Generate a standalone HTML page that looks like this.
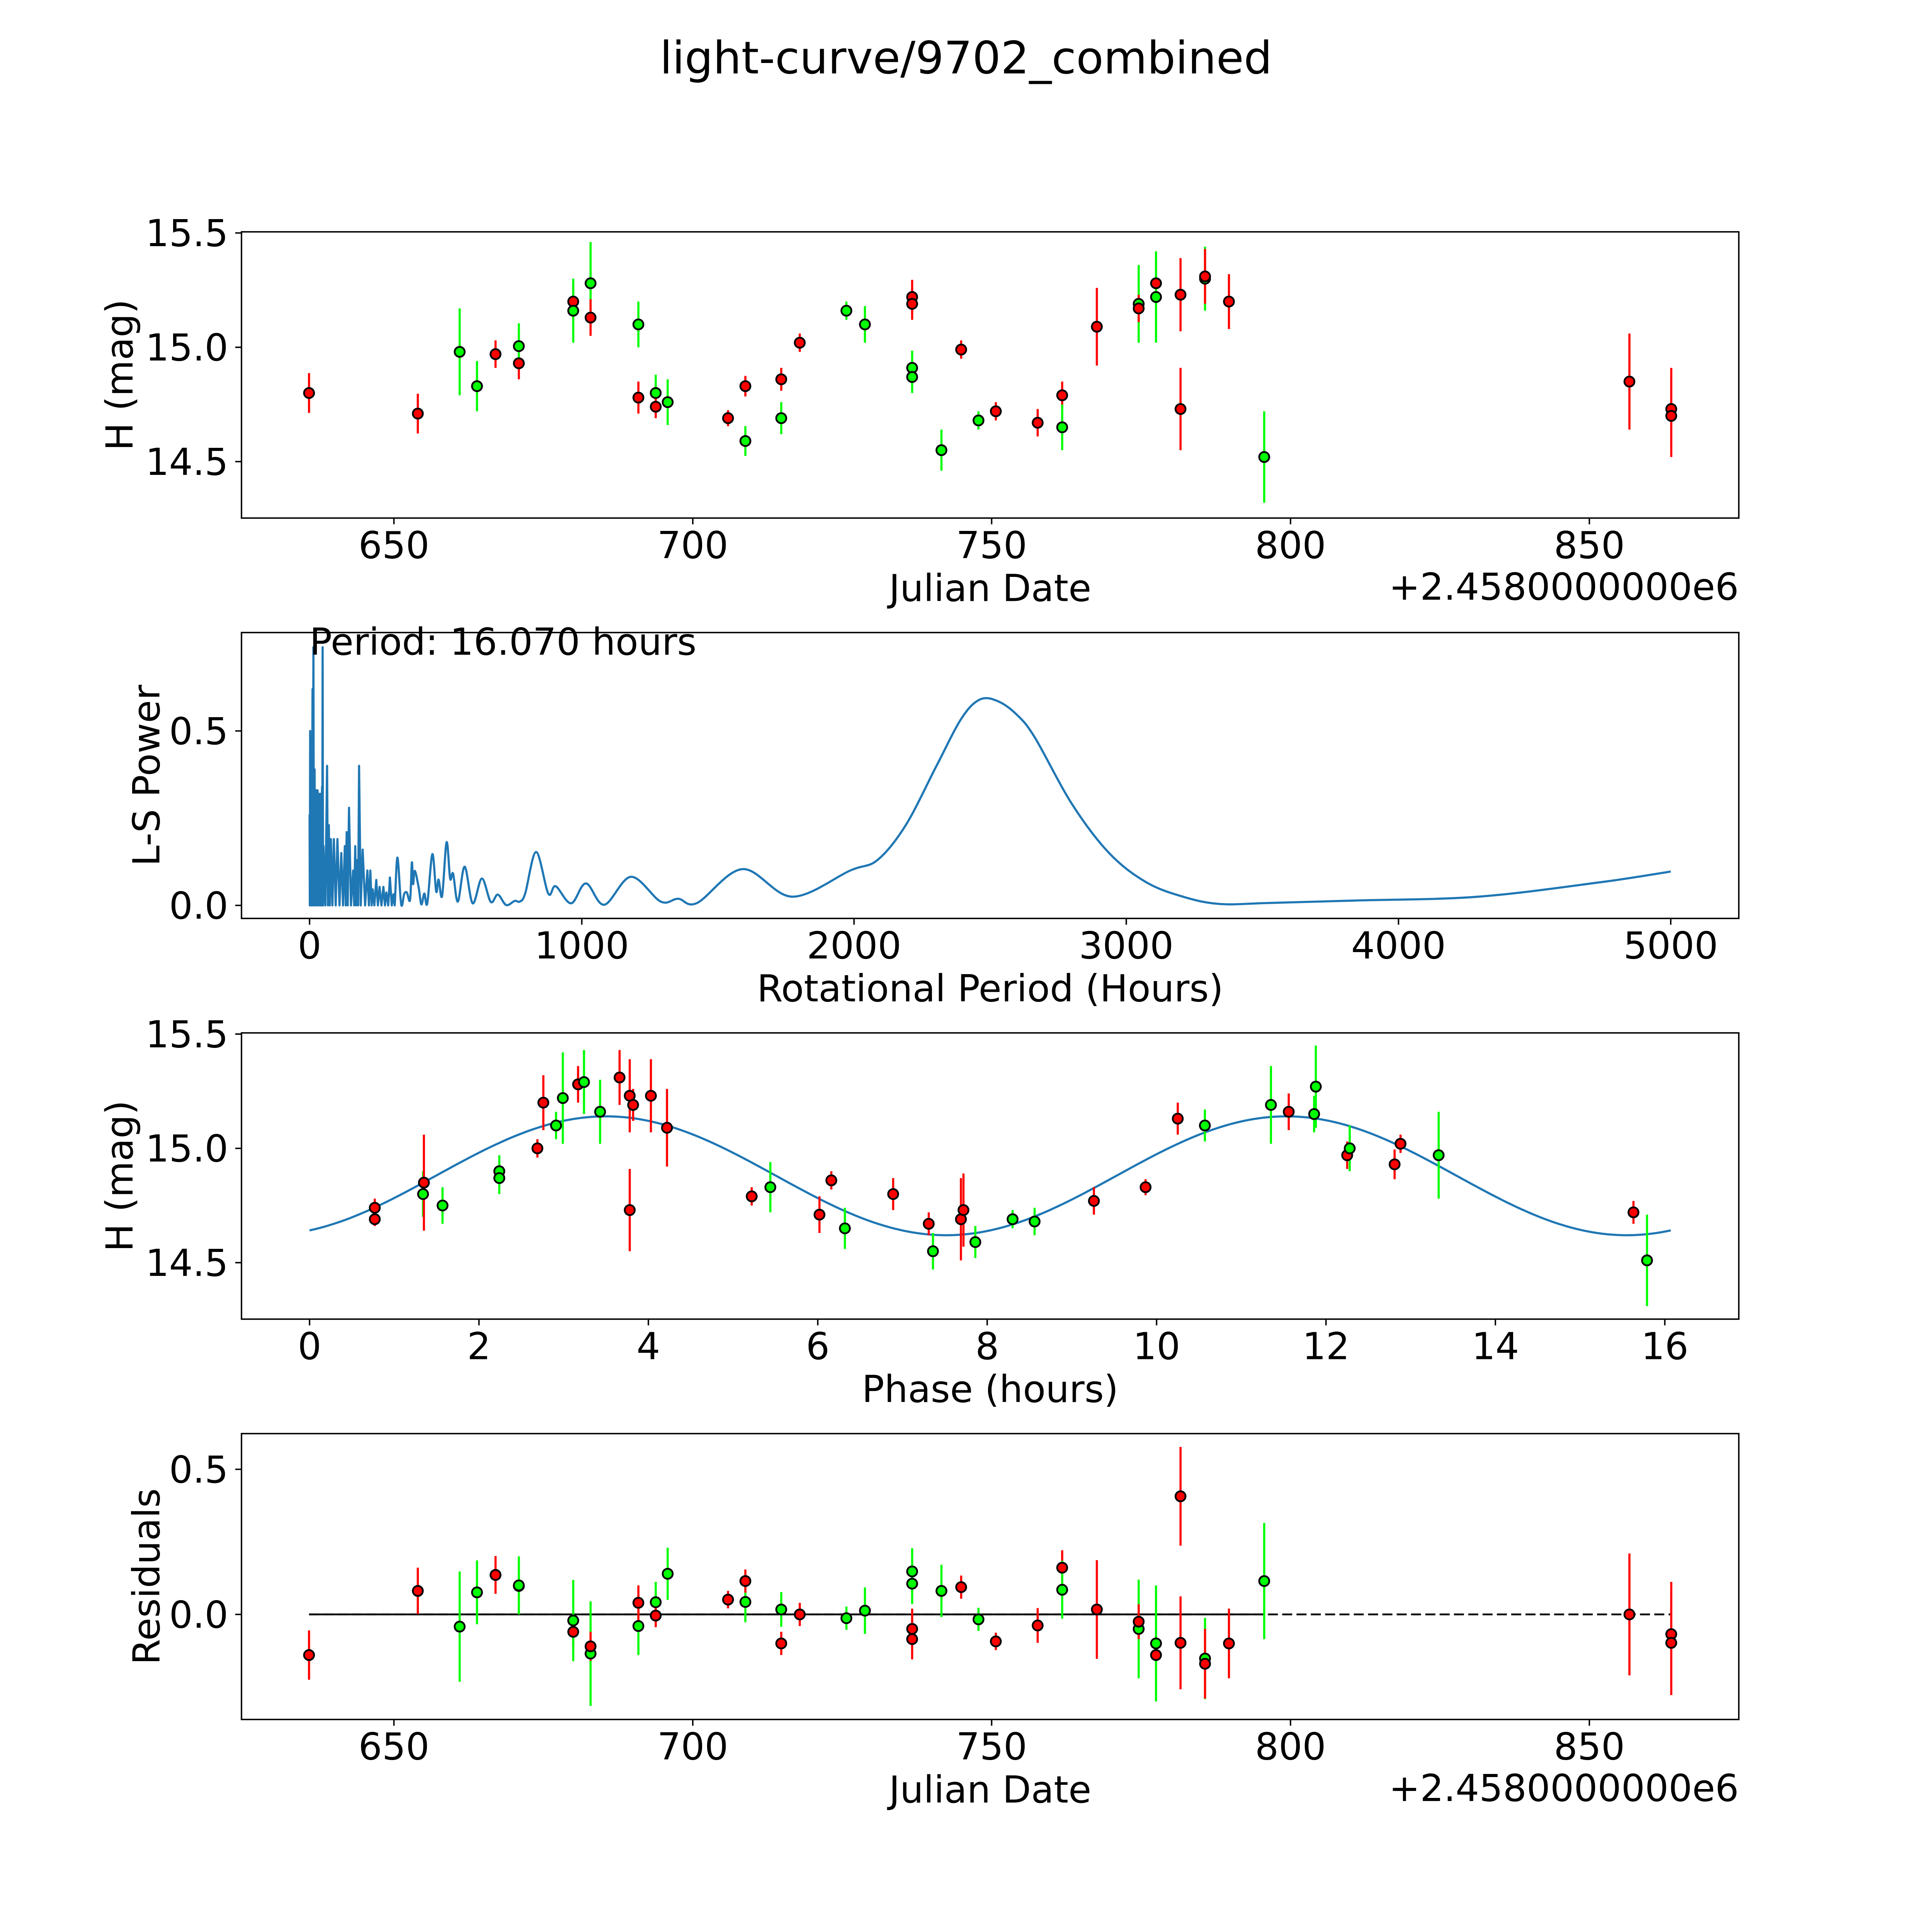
<!DOCTYPE html>
<html><head><meta charset="utf-8"><style>
html,body{margin:0;padding:0;background:#fff;overflow:hidden;width:100vw;height:100vh;}
svg{display:block;width:100vw;height:100vh;font-family:"DejaVu Sans","Liberation Sans",sans-serif;}
</style></head><body>
<svg id="fig" viewBox="0 0 5400 5400" preserveAspectRatio="xMidYMid meet" xmlns="http://www.w3.org/2000/svg">
<rect x="0" y="0" width="5400" height="5400" fill="#fff"/>
<text x="2700" y="205" font-size="125" text-anchor="middle">light-curve/9702_combined</text>
</svg>
<script>
// ---- Panel 1: light curve ----
const lcJD   = [635.8,654.0,661.0,663.9,667.0,670.9,670.9,680.0,680.0,682.9,682.9,690.9,690.9,693.8,693.8,695.8,705.9,708.8,708.8,714.8,714.8,717.9,725.7,728.8,736.7,736.7,736.7,736.7,741.6,744.9,747.8,750.7,757.7,761.8,761.8,767.6,774.6,774.6,777.5,777.5,781.6,781.6,785.7,785.7,789.7,795.6,856.7,863.7,863.7];
const lcMag  = [14.80,14.71,14.98,14.83,14.97,14.93,15.005,15.20,15.16,15.28,15.13,15.10,14.78,14.80,14.74,14.76,14.69,14.59,14.83,14.86,14.69,15.02,15.16,15.10,15.22,15.19,14.91,14.87,14.55,14.99,14.68,14.72,14.67,14.79,14.65,15.09,15.19,15.17,15.28,15.22,15.23,14.73,15.30,15.31,15.20,14.52,14.85,14.73,14.70];
const lcErr  = [0.087,0.087,0.19,0.11,0.06,0.07,0.10,0.08,0.14,0.18,0.08,0.10,0.07,0.08,0.05,0.10,0.035,0.065,0.045,0.05,0.07,0.04,0.04,0.08,0.075,0.07,0.075,0.07,0.09,0.04,0.04,0.04,0.06,0.06,0.10,0.17,0.17,0.06,0.08,0.20,0.16,0.18,0.14,0.12,0.12,0.20,0.21,0.18,0.18];
const lcBand = ['r','r','g','g','r','r','g','r','g','g','r','g','r','g','r','g','r','g','r','r','g','r','g','g','r','r','g','g','g','r','g','r','r','r','g','r','g','r','r','g','r','r','g','r','r','g','r','r','r'];

// ---- Panel 2: periodogram ----
const lsPeriod = [0,1,2.2,3.5,5.4,8,10.9,12.5,14.2,16,18.5,21,24,26.5,29.4,32,34.9,37.5,40.3,43,45.8,46.8,47.9,49.5,51.2,58,64.3,67.5,70.8,74.5,78.4,84,89.3,96,102.4,110,116.6,123,129.6,133,136.2,140,144.9,152,160.1,164,167.8,171.5,175.4,178.5,181.9,188,195,204,212.4,218,223.3,228,232,238,245.1,251,257.1,264,271.2,277,282.1,289,295.2,302,308.3,312.6,322.4,334.4,339.9,347.5,357.3,369.3,375.8,380.2,386.7,400.9,410.7,421.6,432.5,451,465.1,473.9,486.9,503.3,516.3,527.2,544.7,569.7,599.1,632.9,665.6,691.7,722.2,753.8,772.3,792,832.2,876.9,904.1,960.8,1015.3,1082.8,1180.8,1289.8,1354,1423.7,1590.4,1773,1986,2086,2190,2303,2394,2462,2529,2600,2665,2801,2937,3072,3208,3344,3525,3842,4294,4747,5000];
const lsPower  = [0.26,0,0.50,0,0.39,0,0.62,0,0.74,0,0.39,0,0.33,0,0.33,0,0.32,0,0.32,0,0.34,0,0.74,0,0.17,0,0.40,0,0.23,0,0.19,0,0.19,0,0.19,0,0.15,0,0.17,0,0.21,0,0.28,0,0.10,0,0.17,0,0.13,0,0.40,0,0.16,0,0.10,0,0.10,0,0.046,0,0.073,0,0.053,0,0.053,0,0.037,0,0.08,0,0.032,0.0,0.137,0.019,0.0,0.032,0.037,0.016,0.123,0.061,0.099,0.051,0.003,0.034,0.006,0.147,0.04,0.074,0.027,0.181,0.077,0.091,0.011,0.111,0.006,0.077,0.01,0.031,0.001,0.013,0.011,0.034,0.153,0.034,0.055,0.006,0.063,0.002,0.082,0.011,0.019,0.007,0.104,0.025,0.10,0.13,0.23,0.40,0.535,0.59,0.585,0.545,0.48,0.29,0.15,0.067,0.025,0.004,0.007,0.014,0.025,0.067,0.097];
const bestPeriodLabel = "Period: 16.070 hours";

// ---- Panel 3: folded phase ----
const phHours = [0.77,0.77,1.34,1.35,1.57,2.24,2.24,2.69,2.76,2.91,2.99,3.17,3.24,3.43,3.66,3.78,3.78,3.82,4.03,4.22,5.22,5.44,6.02,6.16,6.32,6.89,7.31,7.36,7.69,7.72,7.86,8.30,8.56,9.26,9.87,10.25,10.57,11.35,11.56,11.88,11.86,12.25,12.28,12.81,12.88,13.33,15.63,15.79];
const phMag   = [14.74,14.69,14.80,14.85,14.75,14.90,14.87,15.00,15.20,15.10,15.22,15.28,15.29,15.16,15.31,15.23,14.73,15.19,15.23,15.09,14.79,14.83,14.71,14.86,14.65,14.80,14.67,14.55,14.69,14.73,14.59,14.69,14.68,14.77,14.83,15.13,15.10,15.19,15.16,15.27,15.15,14.97,15.00,14.93,15.02,14.97,14.72,14.51];
const phErr   = [0.04,0.03,0.10,0.21,0.08,0.07,0.07,0.04,0.12,0.06,0.20,0.08,0.14,0.14,0.12,0.16,0.18,0.07,0.16,0.17,0.04,0.11,0.08,0.04,0.09,0.07,0.05,0.08,0.18,0.16,0.07,0.04,0.06,0.06,0.035,0.07,0.07,0.17,0.08,0.18,0.08,0.06,0.10,0.065,0.04,0.19,0.05,0.20];
const phBand  = ['r','r','g','r','g','g','g','r','r','g','g','r','g','g','r','r','r','r','r','r','r','g','r','r','g','r','r','g','r','r','g','g','g','r','r','r','g','g','r','g','g','r','g','r','r','g','r','g'];
const foldPeriod = 16.07;
const modelParams = [14.88, 0.26, 1.49]; // mean, amplitude, phase offset (hours)

// ---- Panel 4: residuals ----
const resJD   = [635.8,654.0,661.0,663.9,667.0,670.9,670.9,680.0,680.0,682.9,682.9,690.9,690.9,693.8,693.8,695.8,705.9,708.8,708.8,714.8,714.8,717.9,725.7,728.8,736.7,736.7,736.7,736.7,741.6,744.9,747.8,750.7,757.7,761.8,761.8,767.6,774.6,774.6,777.5,777.5,781.6,781.6,785.7,785.7,789.7,795.6,856.7,863.7,863.7];
const resVal  = [-0.14,0.081,-0.042,0.076,0.136,0.098,0.10,-0.06,-0.021,-0.135,-0.11,-0.04,0.04,0.042,-0.004,0.14,0.051,0.043,0.115,-0.10,0.017,0.0,-0.013,0.013,-0.05,-0.085,0.148,0.106,0.081,0.094,-0.017,-0.093,-0.038,0.161,0.085,0.017,-0.05,-0.025,-0.14,-0.10,0.407,-0.098,-0.152,-0.17,-0.10,0.115,0.0,-0.068,-0.098];
const resErr  = [0.085,0.08,0.19,0.11,0.065,0.06,0.10,0.05,0.14,0.18,0.05,0.1,0.06,0.07,0.04,0.09,0.03,0.07,0.04,0.04,0.06,0.04,0.04,0.08,0.07,0.07,0.08,0.07,0.09,0.04,0.04,0.03,0.06,0.06,0.1,0.17,0.17,0.06,0.07,0.2,0.17,0.16,0.14,0.12,0.12,0.2,0.21,0.18,0.18];
const resBand = ['r','r','g','g','r','r','g','r','g','g','r','g','r','g','r','g','r','g','r','r','g','r','g','g','r','r','g','g','g','r','g','r','r','r','g','r','g','r','r','g','r','r','g','r','r','g','r','r','r'];

const jdTicks = [650,700,750,800,850];
const magTicks = [14.5,15.0,15.5];
const lsXTicks = [0,1000,2000,3000,4000,5000];
const lsYTicks = [0.0,0.5];
const phTicks = [0,2,4,6,8,10,12,14,16];
const resTicks = [0.0,0.5];

const NS = 'http://www.w3.org/2000/svg';
const svg = document.getElementById('fig');
const COLORS = {r:'#ff0000', g:'#00ff00'};
const L = 675, R = 4860;
const FS = '104';

function el(tag, parent) {
  const e = document.createElementNS(NS, tag);
  parent.appendChild(e);
  return e;
}
function fmt(v, d) { return v.toFixed(d); }

function makeAxes(name, top, bottom, xlim, ylim, xticks, yticks, xdec, ydec, xlabel, ylabel, ylabelX, offsetText) {
  const g = el('g', svg);
  
  
  const sx = v => L + (v - xlim[0]) / (xlim[1] - xlim[0]) * (R - L);
  const sy = v => bottom - (v - ylim[0]) / (ylim[1] - ylim[0]) * (bottom - top);
  const plot = el('g', g);
  
  
  const cp = el('clipPath', g);
  cp.setAttribute('id', name + '-clip');
  const cr = el('rect', cp);
  cr.setAttribute('x', L); cr.setAttribute('y', top);
  cr.setAttribute('width', R - L); cr.setAttribute('height', bottom - top);
  plot.setAttribute('clip-path', 'url(#' + name + '-clip)');
  const frame = el('rect', g);
  
  
  frame.setAttribute('x', L); frame.setAttribute('y', top);
  frame.setAttribute('width', R - L); frame.setAttribute('height', bottom - top);
  frame.setAttribute('fill', 'none'); frame.setAttribute('stroke', '#000'); frame.setAttribute('stroke-width', '4');
  xticks.forEach(t => {
    const x = sx(t);
    const tk = el('line', g);
    
    
    tk.setAttribute('x1', x); tk.setAttribute('x2', x);
    tk.setAttribute('y1', bottom); tk.setAttribute('y2', bottom + 17.5);
    tk.setAttribute('stroke', '#000'); tk.setAttribute('stroke-width', '4');
    const tl = el('text', g);
    
    
    tl.setAttribute('x', x); tl.setAttribute('y', bottom + 112);
    tl.setAttribute('font-size', FS); tl.setAttribute('text-anchor', 'middle');
    tl.textContent = fmt(t, xdec);
  });
  yticks.forEach(t => {
    const y = sy(t);
    const tk = el('line', g);
    
    
    tk.setAttribute('x1', L - 17.5); tk.setAttribute('x2', L);
    tk.setAttribute('y1', y); tk.setAttribute('y2', y);
    tk.setAttribute('stroke', '#000'); tk.setAttribute('stroke-width', '4');
    const tl = el('text', g);
    
    
    tl.setAttribute('x', L - 37); tl.setAttribute('y', y + 37);
    tl.setAttribute('font-size', FS); tl.setAttribute('text-anchor', 'end');
    tl.textContent = fmt(t, ydec);
  });
  const xl = el('text', g);
  
  
  xl.setAttribute('x', (L + R) / 2); xl.setAttribute('y', bottom + 232);
  xl.setAttribute('font-size', FS); xl.setAttribute('text-anchor', 'middle');
  xl.textContent = xlabel;
  const cy = (top + bottom) / 2;
  const yl = el('text', g);
  
  
  yl.setAttribute('x', ylabelX); yl.setAttribute('y', cy);
  yl.setAttribute('font-size', FS); yl.setAttribute('text-anchor', 'middle');
  yl.setAttribute('dominant-baseline', 'central');
  yl.setAttribute('transform', 'rotate(-90 ' + ylabelX + ' ' + cy + ')');
  yl.textContent = ylabel;
  if (offsetText) {
    const ot = el('text', g);
    
    
    ot.setAttribute('x', R); ot.setAttribute('y', bottom + 228);
    ot.setAttribute('font-size', FS); ot.setAttribute('text-anchor', 'end');
    ot.textContent = offsetText;
  }
  return {sx, sy, plot};
}

function errPoints(ax, xs, ys, es, bands, name) {
  for (let i = 0; i < xs.length; i++) {
    const x = ax.sx(xs[i]);
    const eb = el('line', ax.plot);
    
    
    eb.setAttribute('x1', x); eb.setAttribute('x2', x);
    eb.setAttribute('y1', ax.sy(ys[i] - es[i])); eb.setAttribute('y2', ax.sy(ys[i] + es[i]));
    eb.setAttribute('stroke', COLORS[bands[i]]); eb.setAttribute('stroke-width', '6');
  }
  for (let i = 0; i < xs.length; i++) {
    const c = el('circle', ax.plot);
    
    
    c.setAttribute('cx', ax.sx(xs[i])); c.setAttribute('cy', ax.sy(ys[i]));
    c.setAttribute('r', '14');
    c.setAttribute('fill', COLORS[bands[i]]); c.setAttribute('stroke', '#000'); c.setAttribute('stroke-width', '5');
  }
}

// Panel 1
const ax1 = makeAxes('light-curve-panel', 648, 1448, [624.5, 875.0], [14.253, 15.505], jdTicks, magTicks, 0, 1, 'Julian Date', 'H (mag)', 335, '+2.4580000000e6');
errPoints(ax1, lcJD, lcMag, lcErr, lcBand, 'light-curve');

// Panel 2
const ax2 = makeAxes('periodogram-panel', 1768, 2567, [-250, 5250], [-0.0373, 0.782], lsXTicks, lsYTicks, 0, 1, 'Rotational Period (Hours)', 'L-S Power', 410, null);
(function(){
  const SMOOTH_FROM = 312;
  const pts = lsPeriod.map((p, i) => [ax2.sx(p), ax2.sy(lsPower[i])]);
  const i0 = lsPeriod.findIndex(p => p >= SMOOTH_FROM);
  let d = 'M' + pts[0][0] + ',' + pts[0][1];
  for (let i = 1; i <= i0; i++) d += 'L' + pts[i][0].toFixed(1) + ',' + pts[i][1].toFixed(1);
  for (let i = i0; i < pts.length - 1; i++) {
    const p0 = pts[Math.max(i - 1, 0)], p1 = pts[i], p2 = pts[i + 1], p3 = pts[Math.min(i + 2, pts.length - 1)];
    const c1x = p1[0] + (p2[0] - p0[0]) / 6, c1y = p1[1] + (p2[1] - p0[1]) / 6;
    const c2x = p2[0] - (p3[0] - p1[0]) / 6, c2y = p2[1] - (p3[1] - p1[1]) / 6;
    d += 'C' + c1x.toFixed(1) + ',' + c1y.toFixed(1) + ' ' + c2x.toFixed(1) + ',' + c2y.toFixed(1) + ' ' + p2[0].toFixed(1) + ',' + p2[1].toFixed(1);
  }
  const path = el('path', ax2.plot);
  
  
  path.setAttribute('d', d);
  path.setAttribute('fill', 'none'); path.setAttribute('stroke', '#1f77b4');
  path.setAttribute('stroke-width', '6'); path.setAttribute('stroke-linejoin', 'round');
  const t = el('text', svg);
  
  
  t.setAttribute('x', ax2.sx(0)); t.setAttribute('y', 1830);
  t.setAttribute('font-size', FS);
  t.textContent = bestPeriodLabel;
})();

// Panel 3
const ax3 = makeAxes('phase-panel', 2887, 3687, [-0.8035, 16.8735], [14.253, 15.505], phTicks, magTicks, 0, 1, 'Phase (hours)', 'H (mag)', 335, null);
(function(){
  let d = '';
  const N = 300;
  for (let k = 0; k <= N; k++) {
    const t = foldPeriod * k / N;
    const m = modelParams[0] + modelParams[1] * Math.sin(4 * Math.PI * (t - modelParams[2]) / foldPeriod);
    d += (k ? 'L' : 'M') + ax3.sx(t).toFixed(1) + ',' + ax3.sy(m).toFixed(1);
  }
  const path = el('path', ax3.plot);
  
  
  path.setAttribute('d', d);
  path.setAttribute('fill', 'none'); path.setAttribute('stroke', '#1f77b4'); path.setAttribute('stroke-width', '6');
})();
errPoints(ax3, phHours, phMag, phErr, phBand, 'phase');

// Panel 4
const ax4 = makeAxes('residuals-panel', 4007, 4806, [624.5, 875.0], [-0.362, 0.623], jdTicks, resTicks, 0, 1, 'Julian Date', 'Residuals', 410, '+2.4580000000e6');
(function(){
  const x0 = ax4.sx(resJD[0]), xEnd = ax4.sx(Math.max.apply(null, resJD)), y0 = ax4.sy(0);
  const xSolidEnd = ax4.sx(795.6);
  const dl = el('line', ax4.plot);
  
  
  dl.setAttribute('x1', x0); dl.setAttribute('x2', xEnd); dl.setAttribute('y1', y0); dl.setAttribute('y2', y0);
  dl.setAttribute('stroke', '#000'); dl.setAttribute('stroke-width', '5'); dl.setAttribute('stroke-dasharray', '28 12');
  const sl = el('line', ax4.plot);
  
  
  sl.setAttribute('x1', x0); sl.setAttribute('x2', xSolidEnd); sl.setAttribute('y1', y0); sl.setAttribute('y2', y0);
  sl.setAttribute('stroke', '#000'); sl.setAttribute('stroke-width', '5');
})();
errPoints(ax4, resJD, resVal, resErr, resBand, 'residual');
</script>
</body></html>
